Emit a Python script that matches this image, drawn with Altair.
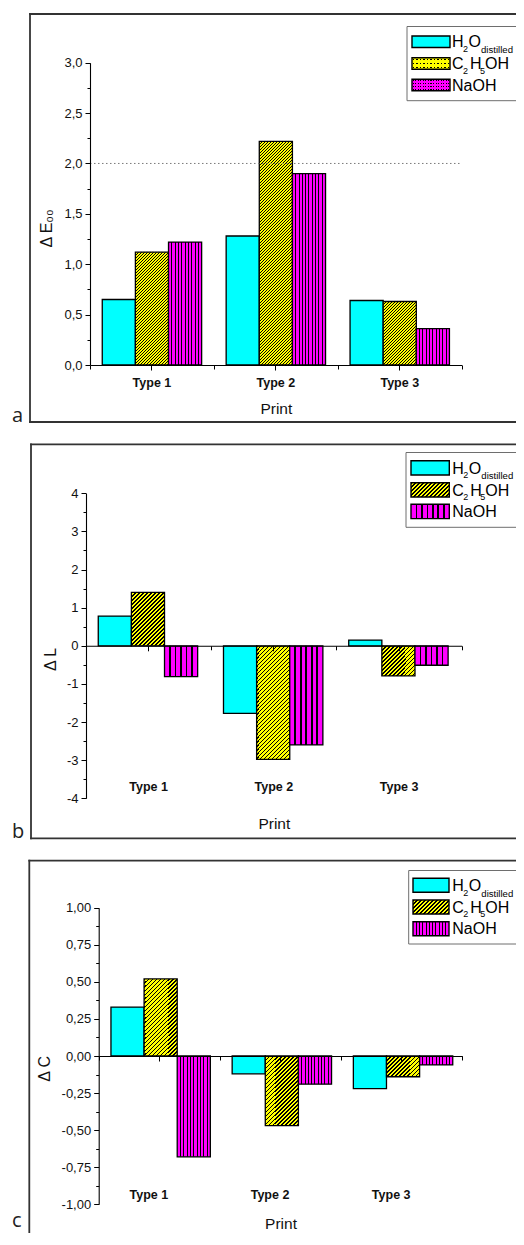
import altair as alt

# ---------------- data ----------------
types = ["Type 1", "Type 2", "Type 3"]
solvents = ["H2O distilled", "C2H5OH", "NaOH"]

dE00_h2o = [0.65, 1.28, 0.64]
dE00_etoh = [1.12, 2.22, 0.63]
dE00_naoh = [1.22, 1.90, 0.36]

dL_h2o = [0.78, -1.77, 0.15]
dL_etoh = [1.40, -2.98, -0.79]
dL_naoh = [-0.81, -2.60, -0.51]

dC_h2o = [0.33, -0.12, -0.22]
dC_etoh = [0.52, -0.47, -0.14]
dC_naoh = [-0.68, -0.19, -0.06]

ticks_a = [0.0, 0.5, 1.0, 1.5, 2.0, 2.5, 3.0]
minor_a = [0.25, 0.75, 1.25, 1.75, 2.25, 2.75]
ticks_b = [-4, -3, -2, -1, 0, 1, 2, 3, 4]
minor_b = [-3.5, -2.5, -1.5, -0.5, 0.5, 1.5, 2.5, 3.5]
ticks_c = [-1.0, -0.75, -0.5, -0.25, 0.0, 0.25, 0.5, 0.75, 1.0]
minor_c = [-0.875, -0.625, -0.375, -0.125, 0.125, 0.375, 0.625, 0.875]
limit_a = 2.0

# legend text pieces: (text, dx, dy, font size)
legend_h2o = [("H", 0, 0, 16), ("2", 11, 4.5, 9), ("O", 16.5, 0, 16), ("distilled", 29, 5.5, 9.6)]
legend_etoh = [("C", 0, 0, 16), ("2", 11, 4.5, 9), ("H", 18, 0, 16), ("5", 28, 4.5, 9), ("OH", 33, 0, 16)]
legend_naoh = [("NaOH", 0, 0, 16)]

# ---------------- styling / layout ----------------
CYAN, YELLOW, MAGENTA, INK = "#00FFFF", "#FFFF00", "#FF00FF", "#000000"
CLEAR = "rgba(255,255,255,0)"
FONT = "Liberation Sans"
M = 8            # page margin: view coords = page coords - 8
W = 508          # whole drawing width (page x 8..516)
H = 1225         # whole drawing height
PAD_OUT = 0.37


def v(p):
    return p - M


def r4(x):
    return round(x, 4)


def diag_hatch(w, h, base, period, lw):
    L = w + h
    stops = []
    k = 0
    while k * period < L:
        s = k * period / L
        e = min((k * period + lw) / L, 1.0)
        n = min((k + 1) * period / L, 1.0)
        stops += [{"offset": r4(s), "color": INK}, {"offset": r4(e), "color": INK},
                  {"offset": r4(e), "color": base}, {"offset": r4(n), "color": base}]
        k += 1
    a = w * L / (w * w + h * h)
    b = h * L / (w * w + h * h)
    return {"gradient": "linear", "x1": 0, "y1": 0, "x2": r4(a), "y2": r4(b), "stops": stops}


def vstripes(w, base, ncols, lw, centered=False):
    half = lw / 2.0 / w
    stops = [{"offset": 0, "color": base}]
    for k in range(ncols):
        if centered:
            c = (k + 0.5) / ncols
        else:
            if k == ncols - 1:
                break
            c = (k + 1) / ncols
        stops += [{"offset": r4(c - half), "color": base}, {"offset": r4(c - half), "color": INK},
                  {"offset": r4(c + half), "color": INK}, {"offset": r4(c + half), "color": base}]
    stops.append({"offset": 1, "color": base})
    return {"gradient": "linear", "x1": 0, "y1": 0, "x2": 1, "y2": 0, "stops": stops}


def hgaps(h, base, nrows, gap):
    half = gap / 2.0 / h
    stops = [{"offset": 0, "color": base}]
    for k in range(nrows):
        c = (k + 0.5) / nrows
        stops += [{"offset": r4(c - half), "color": base}, {"offset": r4(c - half), "color": CLEAR},
                  {"offset": r4(c + half), "color": CLEAR}, {"offset": r4(c + half), "color": base}]
    stops.append({"offset": 1, "color": base})
    return {"gradient": "linear", "x1": 0, "y1": 0, "x2": 0, "y2": 1, "stops": stops}


# all positions below are page pixels of the reference
specs = [
    dict(letter="a", letter_base=422, frame=(30, 14, 422), xr=(90.0, 461.7), yr=(365.0, 62.7), dom=(0.0, 3.0),
         ticks=ticks_a, minor=minor_a,
         fmt="replace(format(datum.value, '.1f'), '.', ',')",
         ytitle="\u0394 E\u2080\u2080", ytx=-38.3, yty=228, lab_base=386.5, print_base=413.3, lab_off=0,
         leg_dx=-8, box=(415, 26.5, 100.7), sw_x=(420, 458), rows_c=(41.75, 63.45, 85.05), sw_h=11.5, tx=460,
         hatch=(3.0, 1.2), vcols=10, vlw=1.0, sw_cols=11, dotted=True, limit=limit_a,
         vals=(dE00_h2o, dE00_etoh, dE00_naoh)),
    dict(letter="b", letter_base=838, frame=(31, 444.3, 838.3), xr=(86.0, 461.7), yr=(798.3, 493.3), dom=(-4.0, 4.0),
         ticks=ticks_b, minor=minor_b,
         fmt="replace(format(datum.value, 'd'), '\u2212', '-')",
         ytitle="\u0394 L", ytx=-31, yty=659, lab_base=790, print_base=828.3, lab_off=0,
         leg_dx=-8, box=(414, 452.5, 527.3), sw_x=(419, 457.3), rows_c=(467.85, 489.85, 511.45), sw_h=14.3,
         tx=460.3, hatch=(4.0, 1.6), vcols=6, vlw=1.8, sw_cols=7, dotted=False, limit=None,
         vals=(dL_h2o, dL_etoh, dL_naoh)),
    dict(letter="c", letter_base=1226.5, frame=(29.3, 860.7, None), xr=(98.7, 462.3), yr=(1204.3, 907.7),
         dom=(-1.0, 1.0), ticks=ticks_c, minor=minor_c,
         fmt="replace(replace(format(datum.value, '.2f'), '.', ','), '\u2212', '-')",
         ytitle="\u0394 C", ytx=-48.7, yty=1068.3, lab_base=1198.6, print_base=1228.5, lab_off=-10.5,
         leg_dx=-10, box=(418.7, 870.5, 944), sw_x=(423, 459), rows_c=(885.3, 907.0, 928.7), sw_h=14,
         tx=462.3, hatch=(4.0, 1.5), vcols=10, vlw=1.0, sw_cols=11, dotted=False, limit=None,
         vals=(dC_h2o, dC_etoh, dC_naoh)),
]

one = alt.Data(values=[{"d": 0}])


def build_panel(sp):
    xr = (v(sp["xr"][0]), v(sp["xr"][1]))
    yr = (v(sp["yr"][0]), v(sp["yr"][1]))
    dom = sp["dom"]
    band = (xr[1] - xr[0]) / 3.0
    barw = band / (3 + 2 * PAD_OUT)
    ppu = (yr[0] - yr[1]) / (dom[1] - dom[0])
    zero_px = yr[0] - (0 - dom[0]) * ppu

    rows = []
    for i, t in enumerate(types):
        for s, vals in zip(solvents, sp["vals"]):
            val = vals[i]
            hp = max(abs(val) * ppu, 1.0)
            if s == solvents[0]:
                paint = CYAN
            elif s == solvents[1]:
                paint = diag_hatch(barw, hp, YELLOW, *sp["hatch"])
            else:
                paint = vstripes(barw, MAGENTA, sp["vcols"], sp["vlw"])
            rows.append({"type": t, "solvent": s, "value": val, "paint": paint})
    data = alt.Data(values=rows)

    xs = alt.Scale(domain=types, range=list(xr), paddingInner=0, paddingOuter=0)
    ys = alt.Scale(domain=list(dom), range=list(yr), nice=False)

    y_major = alt.Axis(orient="left", offset=-xr[0], values=sp["ticks"], labelExpr=sp["fmt"],
                       tickSize=5, tickWidth=1, tickColor=INK, domainColor=INK, domainWidth=1.1,
                       labelPadding=3, labelFont=FONT, labelFontSize=13, labelColor="#111111",
                       title=sp["ytitle"], titleFont=FONT, titleFontSize=16, titleFontWeight="normal",
                       titleColor="#111111", titleAngle=270, titleBaseline="alphabetic", titleAlign="center",
                       titleX=sp["ytx"], titleY=v(sp["yty"]), grid=False, zindex=1)
    y_minor = alt.Axis(orient="left", offset=-xr[0], values=sp["minor"], labels=False, domain=False,
                       tickSize=3, tickWidth=1, tickColor=INK, title=None, grid=False, zindex=1)
    lab_y = v(sp["lab_base"])
    x_labels = alt.Axis(orient="bottom", offset=lab_y - H, domain=False, ticks=False, tickSize=0,
                        labelPadding=0, labelBaseline="alphabetic", labelFont=FONT, labelFontWeight="bold",
                        labelFontSize=12.5, labelColor="#111111", labelAngle=0, labelOffset=sp["lab_off"],
                        title="Print", titleFont=FONT, titleFontSize=15.5, titleFontWeight="normal",
                        titleColor="#111111", titleBaseline="alphabetic",
                        titleY=v(sp["print_base"]) - lab_y, grid=False, zindex=1)
    x_zero = alt.Axis(orient="bottom", offset=zero_px - H, labels=False, ticks=True, tickSize=5,
                      tickColor=INK, tickWidth=1, domain=True, domainColor=INK, domainWidth=1.1,
                      title=None, grid=False, zindex=1)
    x_bound = alt.Axis(orient="bottom", offset=zero_px - H, labels=False, domain=False,
                       tickBand="extent", tickSize=4, tickColor=INK, tickWidth=1,
                       title=None, grid=False, zindex=1)

    bars = alt.Chart(data).mark_bar(stroke=INK, strokeWidth=1.3).encode(
        x=alt.X("type:N", scale=xs, axis=x_labels, sort=types),
        xOffset=alt.XOffset("solvent:N", sort=solvents,
                            scale=alt.Scale(domain=solvents, paddingInner=0, paddingOuter=PAD_OUT)),
        y=alt.Y("value:Q", scale=ys, stack=None, axis=y_major),
        fill=alt.Fill("paint:N", scale=None, legend=None),
    )
    aux1 = alt.Chart(data).mark_bar(opacity=0).encode(
        x=alt.X("type:N", scale=xs, axis=x_bound, sort=types),
        y=alt.Y("value:Q", scale=ys, stack=None, axis=y_minor),
    )
    aux2 = alt.Chart(data).mark_bar(opacity=0).encode(
        x=alt.X("type:N", scale=xs, axis=x_zero, sort=types),
        y=alt.Y("value:Q", scale=ys, stack=None, axis=None),
    )
    scaled = [bars, aux1, aux2]
    if sp["limit"] is not None:
        scaled.append(alt.Chart(one).mark_rule(color="#7a7a7a", strokeDash=[1.5, 2.5], strokeWidth=1).encode(
            y=alt.YDatum(sp["limit"], axis=None), x=alt.value(xr[0]), x2=alt.value(xr[1])))
    panel = alt.layer(*scaled).resolve_axis(x="independent", y="independent")

    # ---- decorations in page pixels ----
    decor = []
    fx, ftop, fbot = sp["frame"]
    fx, ftop = v(fx), v(ftop)
    fb = v(fbot) if fbot is not None else H + 2
    frame = dict(color="#333333", strokeWidth=1.8, strokeCap="square")
    decor.append(alt.Chart(one).mark_rule(**frame).encode(x=alt.value(fx), x2=alt.value(W + 2), y=alt.value(ftop)))
    decor.append(alt.Chart(one).mark_rule(**frame).encode(x=alt.value(fx), y=alt.value(ftop), y2=alt.value(fb)))
    if fbot is not None:
        decor.append(alt.Chart(one).mark_rule(**frame).encode(x=alt.value(fx), x2=alt.value(W + 2), y=alt.value(fb)))

    ldx = sp["leg_dx"]
    bx, by0, by1 = sp["box"]
    decor.append(alt.Chart(one).mark_rect(fill="white", stroke="#6e6e6e", strokeWidth=1).encode(
        x=alt.value(v(bx) + ldx), x2=alt.value(W + 4), y=alt.value(v(by0)), y2=alt.value(v(by1))))

    sx0, sx1 = v(sp["sw_x"][0]) + ldx, v(sp["sw_x"][1]) + ldx
    sww = sx1 - sx0
    swh = sp["sw_h"]
    sw_rows = []
    for r, s in enumerate(solvents):
        yc = v(sp["rows_c"][r])
        if r == 0:
            p1, p2 = CYAN, CLEAR
        elif sp["dotted"]:
            if r == 1:
                p1 = vstripes(sww, YELLOW, 11, 1.4, centered=True)
                p2 = hgaps(swh, YELLOW, 3, 1.4)
            else:
                p1 = vstripes(sww, MAGENTA, 15, 1.1, centered=True)
                p2 = hgaps(swh, MAGENTA, 4, 1.1)
        else:
            if r == 1:
                p1 = diag_hatch(sww, swh, YELLOW, *sp["hatch"])
            else:
                p1 = vstripes(sww, MAGENTA, sp["sw_cols"], sp["vlw"])
            p2 = CLEAR
        sw_rows.append({"x0": sx0, "x1": sx1, "y0": yc - swh / 2, "y1": yc + swh / 2, "p1": p1, "p2": p2})
    swd = alt.Data(values=sw_rows)
    enc = dict(x=alt.X("x0:Q", scale=None), x2=alt.X2("x1"), y=alt.Y("y0:Q", scale=None), y2=alt.Y2("y1"))
    decor.append(alt.Chart(swd).mark_rect().encode(fill=alt.Fill("p1:N", scale=None, legend=None), **enc))
    decor.append(alt.Chart(swd).mark_rect().encode(fill=alt.Fill("p2:N", scale=None, legend=None), **enc))
    decor.append(alt.Chart(swd).mark_rect(fill="white", fillOpacity=0, stroke=INK, strokeWidth=1.4).encode(**enc))

    txt_rows = []
    for r, pieces in enumerate((legend_h2o, legend_etoh, legend_naoh)):
        base = v(sp["rows_c"][r]) + 5.7
        for text, dx, dy, fs in pieces:
            txt_rows.append({"tx": v(sp["tx"]) + ldx + dx, "ty": base + dy, "text": text, "fs": fs})
    decor.append(alt.Chart(alt.Data(values=txt_rows)).mark_text(
        align="left", baseline="alphabetic", font=FONT, color=INK).encode(
        x=alt.X("tx:Q", scale=None), y=alt.Y("ty:Q", scale=None), text="text:N",
        size=alt.Size("fs:Q", scale=None)))

    decor.append(alt.Chart(one).mark_text(text=sp["letter"], align="left", baseline="alphabetic",
                                          font="Open Sans", fontSize=20, color="#222222").encode(
        x=alt.value(v(12)), y=alt.value(v(sp["letter_base"]))))
    return panel, decor


parts = []
decorations = []
for sp in specs:
    p, d = build_panel(sp)
    parts.append(p)
    decorations += d

chart = alt.layer(*parts, *decorations).resolve_scale(x="independent", y="independent").properties(
    width=W, height=H,
    autosize=alt.AutoSizeParams(type="none"),
    padding=0,
    background="white",
).configure_view(stroke=None)

chart.save("out.html", embed_options={"renderer": "svg", "actions": False})
